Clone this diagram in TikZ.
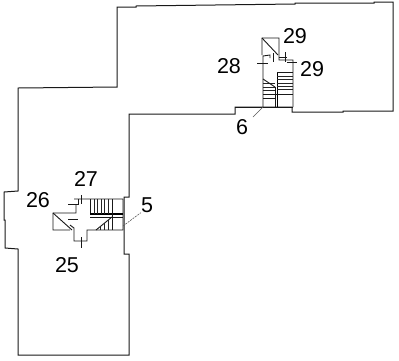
\documentclass[tikz,border=0pt]{standalone}
\usepackage{fontspec}
\setmainfont{Liberation Sans}
\tikzset{
  wall/.style={draw=black!90,line width=1pt,line join=miter},
  fine/.style={draw=black!90,line width=0.9pt},
  tread/.style={draw=black!85,line width=1pt},
  heavy/.style={draw=black,line width=1.7pt},
  leader/.style={draw=black!65,line width=0.6pt},
  num/.style={font=\fontsize{21.5}{21.5}\selectfont,inner sep=0pt,text=black}
}
\begin{document}
\begin{tikzpicture}[x=1pt,y=-1pt]
\useasboundingbox (0,0) rectangle (399,360);
\fill[white] (0,0) rectangle (399,360);
% outer outline
\draw[wall] (117,87) -- (117,7) -- (136,7) -- (136,6) -- (215,5) -- (295,4) -- (295,3) -- (374,3) -- (374,2) -- (393,2)
  -- (393,111) -- (343,111) -- (343,112) -- (292,112) -- (292,107) -- (235,107) -- (235,114) -- (129,114)
  -- (129,197) -- (124,197) -- (124,254) -- (129,254) -- (129,355) -- (18,355) -- (18,249) -- (5,248)
  -- (5,220) -- (4,220) -- (4,192) -- (18,191) -- (18,88) -- cycle;
% lower-left core
\draw[fine] (74,199) -- (123,199) -- (123,230) -- (87,230) -- (87,241) -- (74,241) -- (74,228) -- (70,225) (70,230) -- (53,230) -- (53,213) -- (76,213) -- (76,205);
\draw[fine] (53,213) -- (72,230);
\draw[fine] (68,204) -- (78,204) (78,199) -- (78,205) (81,195) -- (81,204) (68,219) -- (78,219) (81,237) -- (81,248);
\draw[fine] (90,199) -- (90,215);
\draw[heavy,line width=1.1pt] (90,214) -- (123,214);
\draw[fine] (90,217) -- (123,217) (112,199) -- (112,230);
\foreach \x in {94,97,101,104,108} \draw[tread] (\x,199) -- (\x,214);
\draw[fine] (96,230) -- (112,217);
\foreach \x/\y in {100/226,104/223,108/220} \draw[tread] (\x,\y) -- (\x,230);
% upper-right core
\draw[fine] (263,107) -- (263,56) -- (270,55) -- (270,58) (262,55) -- (262,38) -- (279,38) -- (279,60) -- (293,60) -- (293,107);
\draw[fine] (262,38) -- (278,55);
\draw[fine] (273,53) -- (273,62) (285,52) -- (285,62) (279,57) -- (287,57) (287,62) -- (297,62) (257,63) -- (268,63);
\draw[wall] (235,107) -- (293,107);
\draw[heavy] (277.5,72) -- (277.5,107);
\draw[fine] (277,72) -- (293,72);
\foreach \y in {76,79,83,86,89} \draw[tread] (277,\y) -- (293,\y);
\draw[fine] (263,94) -- (293,94) (263,98) -- (275,98) (275,87) -- (275,107);
\foreach \y in {83,87,90} \draw[tread] (263,\y) -- (275,\y);
\draw[fine] (263,79) -- (275,87);
% labels
\node[num] (n29a) at (295,36) {29};
\node[num] (n29b) at (312,69) {29};
\node[num] (n28) at (229,66) {28};
\node[num] (n6) at (242,127) {6};
\node[num] (n27) at (86,179) {27};
\node[num] (n26) at (38,200) {26};
\node[num] (n5) at (147,205) {5};
\node[num] (n25) at (67,265) {25};
% leaders
\coordinate (c6) at (263,107);
\coordinate (c5) at (123,226);
\draw[leader] (n6) ++(11,-10) coordinate (l6) (c6) -- (l6);
\draw[leader,dash pattern=on 2pt off 1pt] (c5) -- (n5.south west);
\end{tikzpicture}
\end{document}
